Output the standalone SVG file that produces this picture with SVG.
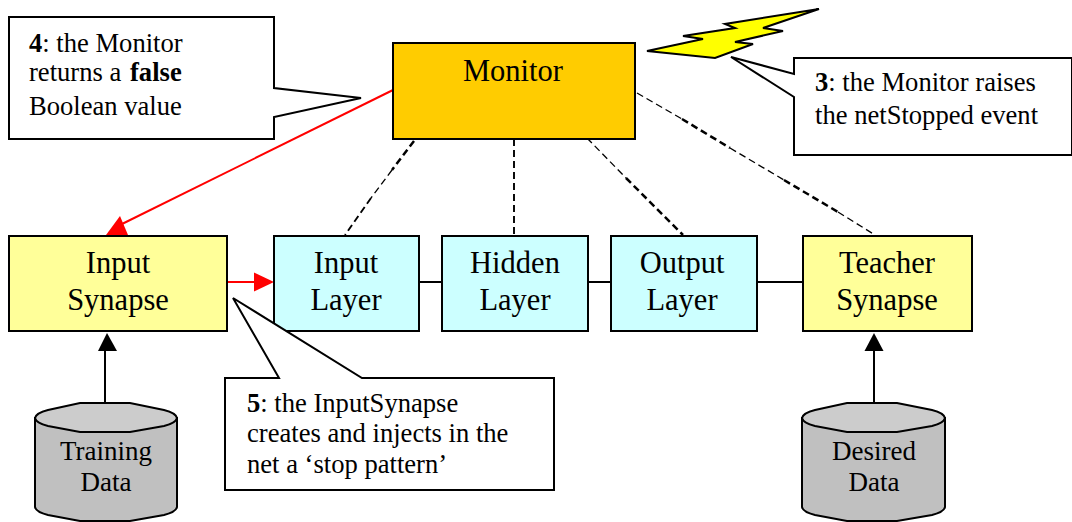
<svg xmlns="http://www.w3.org/2000/svg" width="1072" height="522" viewBox="0 0 1072 522">
<defs>
<style>
text{font-family:"Liberation Serif","Times New Roman",serif;fill:#000;font-size:30.500px;text-anchor:middle}
.c{font-size:26.6px;text-anchor:start}
.d{font-size:27px}
.s{stroke:#000;stroke-width:2}
.call{fill:#fff;stroke:#000;stroke-width:2}
.dash{fill:none;stroke:#000;stroke-width:1.3;stroke-dasharray:7 4}
.mid{fill:none;stroke:#000;stroke-width:1.900;stroke-dasharray:7 4}
.thick{fill:none;stroke:#000;stroke-width:2.500;stroke-dasharray:7 4}
.line{fill:none;stroke:#000;stroke-width:2}
.red{fill:none;stroke:#f00;stroke-width:2}
.cyl{fill:#c0c0c0;stroke:#000;stroke-width:2}
.top{fill:#ccc;stroke:#000;stroke-width:2}
</style>
</defs>
<rect width="1072" height="522" fill="#fff"/>
<g id="connectors">
<path class="thick" d="M414 141L392 170"/>
<path class="dash" d="M392 170L371 198"/>
<path class="mid" d="M371 198L345 235"/>
<path class="mid" d="M514 139V235"/>
<path class="dash" d="M587 138L626 178"/>
<path class="thick" d="M626 178L683 235"/>
<path class="dash" d="M637 93L682 119"/>
<path class="thick" d="M682 119L730 148"/>
<path class="dash" d="M730 148L784 180"/>
<path class="thick" d="M784 180L838 212"/>
<path class="dash" d="M838 212L875 235"/>
<path class="line" d="M419 282H442M588 282H611M757 282H803"/>
<path class="line" d="M105 403V351"/>
<polygon points="107,333 117,351 98,351" fill="#000"/>
<path class="line" d="M874 403V351"/>
<polygon points="874,333 883.500,351 864.500,351" fill="#000"/>
<path class="red" d="M393 90L122 224"/>
<polygon points="106,235 120,216 128,235" fill="#f00"/>
<path class="red" d="M227 282H255"/>
<polygon points="274,282 254,272.500 254,291.500" fill="#f00"/>
</g>
<g id="callout4">
<polygon class="call" points="9,17 274,17 274,88 361,98 274,117 274,139 9,139"/>
<text class="c" x="29" y="52"><tspan font-weight="bold">4</tspan>: the Monitor</text>
<text class="c" x="29" y="81">returns a<tspan x="130" font-weight="bold">false</tspan></text>
<text class="c" x="29" y="115">Boolean value</text>
</g>
<g id="monitor">
<rect class="s" x="393" y="43" width="242" height="96" fill="#fc0"/>
<text x="513" y="81">Monitor</text>
</g>
<g id="bolt">
<polygon points="647,51 703,39 683,36 735,28 725,24 819,9 763,28 783,31 735,42 753,44 715,58" fill="#ff0" stroke="#000" stroke-width="2"/>
</g>
<g id="callout3">
<polygon class="call" points="794,58 1072,58 1072,155 794,155 794,97 731,57 794,74"/>
<text class="c" x="815" y="91"><tspan font-weight="bold">3</tspan>: the Monitor raises</text>
<text class="c" x="815" y="124">the netStopped event</text>
</g>
<g id="input-synapse">
<rect class="s" x="9" y="236" width="218" height="95" fill="#ff9"/>
<text x="118" y="273">Input</text><text x="118" y="310">Synapse</text>
</g>
<g id="input-layer">
<rect class="s" x="274" y="236" width="145" height="95" fill="#cff"/>
<text x="346" y="273">Input</text><text x="346" y="310">Layer</text>
</g>
<g id="hidden-layer">
<rect class="s" x="442" y="236" width="146" height="95" fill="#cff"/>
<text x="515" y="273">Hidden</text><text x="515" y="310">Layer</text>
</g>
<g id="output-layer">
<rect class="s" x="611" y="236" width="146" height="95" fill="#cff"/>
<text x="682" y="273">Output</text><text x="682" y="310">Layer</text>
</g>
<g id="teacher-synapse">
<rect class="s" x="803" y="236" width="169" height="95" fill="#ff9"/>
<text x="887" y="273">Teacher</text><text x="887" y="310">Synapse</text>
</g>
<g id="callout5">
<polygon class="call" points="225,378 279,378 233,298 362,378 554,378 554,490 225,490"/>
<text class="c" x="247" y="412"><tspan font-weight="bold">5</tspan>: the InputSynapse</text>
<text class="c" x="247" y="442">creates and injects in the</text>
<text class="c" x="247" y="473">net a ‘stop pattern’</text>
</g>
<g id="training-data">
<path class="cyl" d="M35 418V507Q36 512 48 515L80 521H130L164 515Q176 512 177 507V418Z"/>
<path class="top" d="M35 418Q36 413 48 410L80 403H130L164 410Q176 413 177 418Q176 423 164 426L130 432H80L48 426Q36 423 35 418Z"/>
<text class="d" x="106" y="460">Training</text><text class="d" x="106" y="491">Data</text>
</g>
<g id="desired-data">
<path class="cyl" d="M802 418V507Q803 512 815 515L847 521H897L932 515Q944 512 945 507V418Z"/>
<path class="top" d="M802 418Q803 413 815 410L847 403H897L932 410Q944 413 945 418Q944 423 932 426L897 432H847L815 426Q803 423 802 418Z"/>
<text class="d" x="874" y="460">Desired</text><text class="d" x="874" y="491">Data</text>
</g>
</svg>
